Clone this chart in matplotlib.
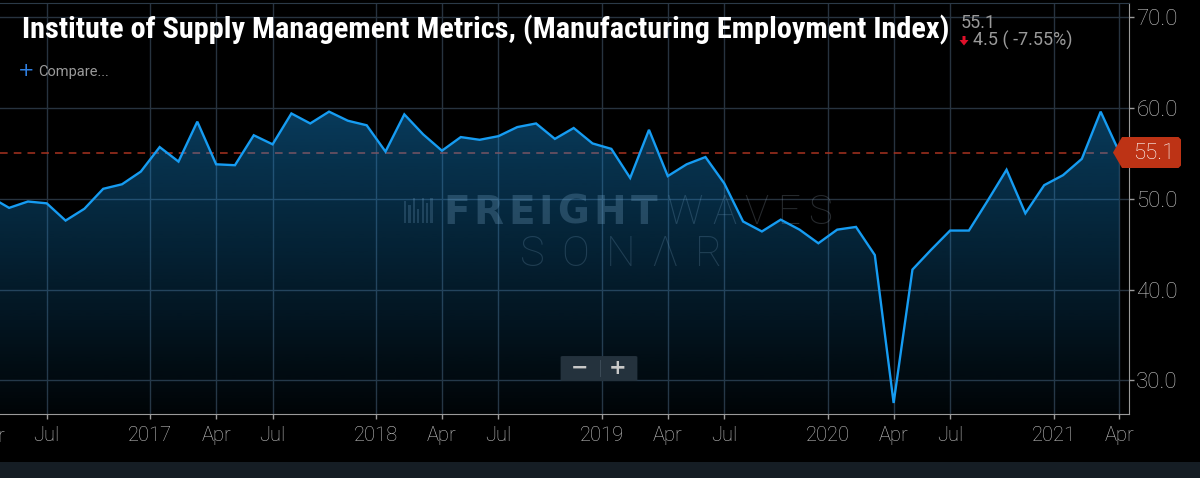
import numpy as np
import pandas as pd
import matplotlib
matplotlib.use("Agg")
import matplotlib.pyplot as plt
import matplotlib.transforms as mtransforms
from matplotlib.patches import Polygon, Rectangle, FancyBboxPatch
from matplotlib import font_manager as fm

# ISM manufacturing employment index, monthly Apr 2016 .. Apr 2021
months = pd.period_range("2016-04", "2021-04", freq="M")
employment = [
    50.2, 49.0, 49.7, 49.5, 47.6, 48.9, 51.1, 51.6, 53.0,        # Apr-Dec 2016
    55.7, 54.1, 58.5, 53.8, 53.7, 57.0, 56.0, 59.4, 58.3, 59.6, 58.6, 58.1,  # 2017
    55.2, 59.3, 57.1, 55.3, 56.8, 56.5, 56.9, 57.9, 58.3, 56.6, 57.8, 56.1,  # 2018
    55.5, 52.3, 57.6, 52.5, 53.8, 54.6, 51.7, 47.5, 46.4, 47.7, 46.6, 45.1,  # 2019
    46.6, 46.9, 43.8, 27.5, 42.2, 44.4, 46.5, 46.5, 49.8, 53.2, 48.4, 51.5,  # 2020
    52.6, 54.4, 59.6, 55.1,                                      # Jan-Apr 2021
]
y_ticks = [30, 40, 50, 60, 70]
title = "Institute of Supply Management Metrics, (Manufacturing Employment Index)"

last_value = employment[-1]
prev_value = employment[-2]
change = last_value - prev_value
change_pct = change / prev_value * 100

W, H, DPI = 1200, 478, 100


def pick(names, fallback="DejaVu Sans"):
    for n in names:
        try:
            fm.findfont(fm.FontProperties(family=n), fallback_to_default=False)
            return n
        except Exception:
            pass
    return fallback


ui_font = pick(["Roboto", "Open Sans", "Lato"])
title_font = pick(["Roboto Condensed", "Liberation Sans Narrow", "Roboto"])

line_color = "#169cf2"
line_rgb = np.array([22, 156, 242]) / 255
grid_color = "#27333f"
label_color = "#c4c4c4"

fig = plt.figure(figsize=(W / DPI, H / DPI), dpi=DPI, facecolor="black")


def fx(px):
    return px / W


def fy(py):
    return 1 - py / H


ax_top, ax_bottom, ax_right = 3.3, 413.7, 1128.5
ax = fig.add_axes([0, fy(ax_bottom), fx(ax_right), (ax_bottom - ax_top) / H])
ax.set_facecolor("black")

x = np.arange(len(months))
xmin, xmax = 0.516, 60.48
ymin, ymax = 26.32, 71.54

# gradient fill under the line: line colour with alpha fading downwards
levels = np.linspace(ymin, ymax, 300)
alpha = np.clip(0.03 + (levels - ymin) * (0.38 - 0.03) / (60 - ymin), 0, 0.55)
rgba = np.zeros((300, 1, 4))
rgba[..., :3] = line_rgb
rgba[..., 3] = alpha[:, None]
im = ax.imshow(rgba, extent=[x[0] - 1, x[-1] + 1, ymin, ymax], origin="lower",
               aspect="auto", interpolation="bilinear", zorder=2)
verts = np.column_stack([np.r_[x[0], x, x[-1]], np.r_[ymin, employment, ymin]])
clip = Polygon(verts, closed=True, facecolor="none", edgecolor="none")
ax.add_patch(clip)
im.set_clip_path(clip)

ax.plot(x, employment, color=line_color, lw=1.7, zorder=3, solid_joinstyle="miter")
ax.axhline(last_value, color="#a83220", lw=1.1, dashes=(5, 4), zorder=1)

# x ticks: year labels sit between Dec and Jan, quarter labels on Apr / Jul
tick_pos, tick_lab = [], []
for i, m in enumerate(months):
    if m.month == 1:
        tick_pos.append(i - 0.5)
        tick_lab.append(str(m.year))
    elif m.month in (4, 7):
        tick_pos.append(i)
        tick_lab.append(m.strftime("%b"))
ax.set_xticks(tick_pos)
ax.set_xticklabels(tick_lab)
ax.set_yticks(y_ticks)
ax.set_yticklabels([f"{v:.1f}" for v in y_ticks])
ax.yaxis.tick_right()
ax.set_xlim(xmin, xmax)
ax.set_ylim(ymin, ymax)

ax.set_axisbelow(True)
ax.grid(True, color=grid_color, lw=1.0)
ax.tick_params(axis="x", length=3.6, width=1, color="#9a9a9a", pad=5.5,
               labelsize=14.5, labelcolor=label_color)
ax.tick_params(axis="y", length=3.6, width=1, color="#9a9a9a", pad=2,
               labelsize=16, labelcolor=label_color)
for lab in ax.get_xticklabels() + ax.get_yticklabels():
    lab.set_family(ui_font)
    lab.set_weight("light")

ax.spines["left"].set_visible(False)
ax.spines["top"].set_color("#2b3a48")
ax.spines["bottom"].set_color("#9a9a9a")
ax.spines["right"].set_color("#9a9a9a")

# last value marker on the right axis
anchor = mtransforms.ScaledTranslation(xmax, last_value, ax.transData)
tr = fig.dpi_scale_trans + anchor
box = np.array([[-15.5, 0], [-6.5, 15.5], [50, 15.5], [52.5, 13],
                [52.5, -13], [50, -15.5], [-6.5, -15.5]]) / DPI
ax.add_patch(Polygon(box, closed=True, transform=tr, facecolor="#bd3315",
                     edgecolor="none", clip_on=False, zorder=6))
ax.text(25.5 / DPI, -0.5 / DPI, f"{last_value:.1f}", transform=tr, ha="center",
        va="center", fontsize=16, color="white", family=ui_font, weight="light",
        zorder=7, clip_on=False)

# watermark, letters spread to the logo's width
renderer = fig.canvas.get_renderer()
wm = dict(transform=fig.transFigure, zorder=1.5, clip_on=False, va="baseline",
          ha="left", color="#a0b0c0")


def spaced(x0, x1, base, s, **kw):
    arts = [ax.text(0, fy(base), ch, **kw) for ch in s]
    widths = [a.get_window_extent(renderer).width for a in arts]
    gap = (x1 - x0 - sum(widths)) / (len(s) - 1)
    pos = x0
    for a, w in zip(arts, widths):
        a.set_x(fx(pos))
        pos += w + gap


spaced(443, 657, 224, "FREIGHT", fontsize=28, weight="heavy", alpha=0.27,
       family="DejaVu Sans", **wm)
spaced(667, 832, 224, "WAVES", fontsize=29, weight="light", alpha=0.24,
       family=ui_font, **wm)
spaced(520, 722, 266, "SONΛR", fontsize=30, weight="light", alpha=0.22,
       family=ui_font, **wm)
for k, hgt in enumerate([22, 18, 25, 14, 25, 20, 25]):
    ax.add_patch(Rectangle((fx(404 + k * 4.4), fy(223)), fx(2.2), hgt / H,
                           facecolor="#a0b0c0", alpha=0.22, edgecolor="none",
                           transform=fig.transFigure, zorder=1.5, clip_on=False))

# first "Apr" label, mostly outside the figure on the left
ax.text(0, fy(436), months[0].strftime("%b"),
        transform=mtransforms.blended_transform_factory(ax.transData, fig.transFigure),
        ha="center", va="center", fontsize=14.5, color=label_color,
        family=ui_font, weight="light", clip_on=False)

# zoom buttons
fig.patches.append(FancyBboxPatch((fx(563), fy(380)), fx(72), 23 / H,
                                  boxstyle="round,pad=0.002", transform=fig.transFigure,
                                  facecolor="#24323d", edgecolor="none", zorder=5))
fig.text(fx(580), fy(368), "\u2212", ha="center", va="center", fontsize=15,
         weight="bold", color="#c8c8c8", family="DejaVu Sans", zorder=6)
fig.text(fx(618), fy(368), "+", ha="center", va="center", fontsize=15,
         weight="bold", color="#c8c8c8", family="DejaVu Sans", zorder=6)
fig.patches.append(Rectangle((fx(600), fy(377)), fx(1), 17 / H, transform=fig.transFigure,
                             facecolor="#3b4a56", edgecolor="none", zorder=6))

# bottom strip
fig.patches.append(Rectangle((0, 0), 1, 16 / H, transform=fig.transFigure,
                             facecolor="#151d24", edgecolor="none", zorder=1))

# title, fitted to the reference width
t = fig.text(fx(22), fy(38), title, ha="left", va="baseline", fontsize=19,
             weight="bold", color="white", family=title_font, zorder=6)
w = t.get_window_extent(renderer).width
t.set_fontsize(19 * 926 / w)

# header value and change
fig.text(fx(961), fy(28), f"{last_value:.1f}", ha="left", va="baseline",
         fontsize=13, color="#9a9a9a", family=ui_font, zorder=6)
arrow = np.array([[962.5, 36], [965.5, 36], [965.5, 40], [968.5, 40], [964, 45.5],
                  [959.5, 40], [962.5, 40]])
fig.patches.append(Polygon(np.column_stack([fx(arrow[:, 0]), fy(arrow[:, 1])]),
                           closed=True, transform=fig.transFigure,
                           facecolor="#e0102a", edgecolor="none", zorder=6))
fig.text(fx(973), fy(46), f"{abs(change):.1f} ( {change_pct:.2f}%)", ha="left",
         va="baseline", fontsize=13, color="#9a9a9a", family=ui_font, zorder=6)

# compare link
fig.text(fx(26), fy(71), "+", ha="center", va="center", fontsize=14,
         color="#2f7fe0", family="DejaVu Sans", zorder=6)
fig.text(fx(38), fy(72), "Compare...", ha="left", va="center", fontsize=10.5,
         color="#9a9a9a", family=ui_font, zorder=6)

fig.savefig("out.png", dpi=DPI, facecolor="black")
